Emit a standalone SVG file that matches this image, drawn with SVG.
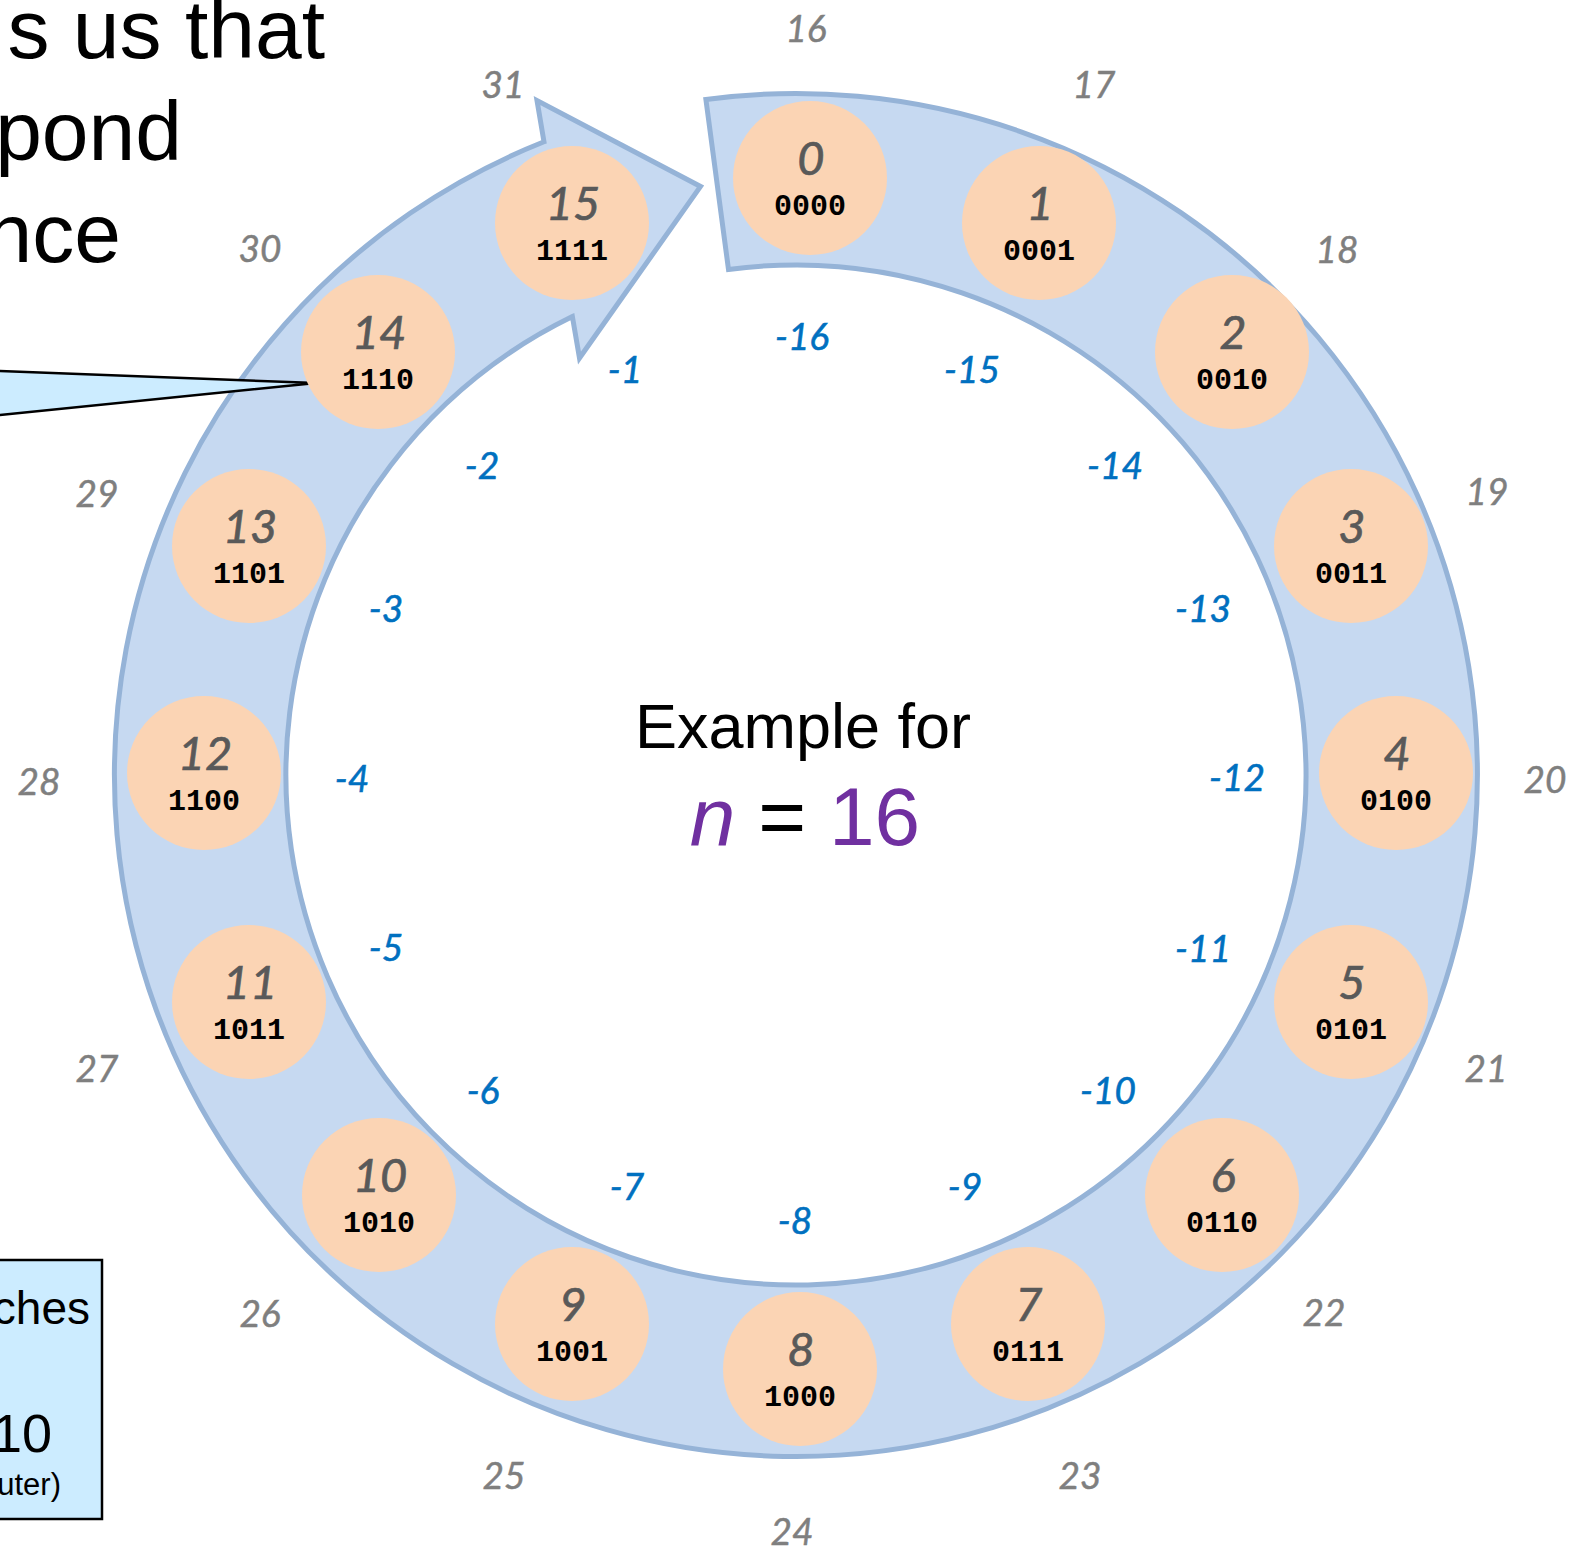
<svg xmlns="http://www.w3.org/2000/svg" width="1575" height="1549" viewBox="0 0 1575 1549">
<style>
.ring{fill:#C6D9F1;stroke:#95B3D7;stroke-width:5;stroke-linejoin:miter}
.node{fill:#FBD4B4}
.num{font-family:Lato,"Open Sans",sans-serif;font-style:italic;font-size:47px;fill:#595959;stroke:#595959;stroke-width:0.7;text-anchor:middle}
.bin{font-family:"Liberation Mono","DejaVu Sans Mono",monospace;font-weight:bold;font-size:30px;fill:#000;text-anchor:middle}
.outer{font-family:Lato,"Open Sans",sans-serif;font-style:italic;font-size:37px;fill:#7F7F7F;stroke:#7F7F7F;stroke-width:0.5;text-anchor:middle}
.neg{font-family:Lato,"Open Sans",sans-serif;font-style:italic;font-size:37px;fill:#0070C0;stroke:#0070C0;stroke-width:0.6;text-anchor:middle}
.big{font-family:"Liberation Sans",Arial,sans-serif;fill:#000}
.callout{fill:#CCECFF;stroke:#000;stroke-width:2.5}
</style>
<rect width="1575" height="1549" fill="#fff"/>

<g id="heading-text">
<text class="big" x="325" y="58" font-size="84" text-anchor="end">s us that</text>
<text class="big" x="182" y="160" font-size="84" text-anchor="end">pond</text>
<text class="big" x="121" y="262" font-size="84" text-anchor="end">nce</text>
</g>

<g id="ring">
<path class="ring" d="M 705.9 99.5 A 681.5 681.5 0 1 1 544.0 141.8 L 537 100.5 L 700.5 186.5 L 579.5 358 L 572.4 316.6 A 510 510 0 1 0 728.5 269.5 Z"/>
</g>

<g id="callout">
<path class="callout" d="M -10 370.6 L 316 383 L -10 416 Z"/>
</g>

<g id="box">
<rect class="callout" x="-10" y="1260" width="112" height="259"/>
<text class="big" x="90" y="1324" font-size="46" text-anchor="end">ches</text>
<text class="big" x="52" y="1452" font-size="54" text-anchor="end">10</text>
<text class="big" x="61" y="1495" font-size="31" text-anchor="end">uter)</text>
</g>

<g id="node0"><circle class="node" cx="810" cy="178" r="77"/><text class="num" x="811" y="175">0</text><text class="bin" x="810" y="215">0000</text></g>
<g id="node1"><circle class="node" cx="1039" cy="223" r="77"/><text class="num" x="1040" y="220">1</text><text class="bin" x="1039" y="260">0001</text></g>
<g id="node2"><circle class="node" cx="1232" cy="352" r="77"/><text class="num" x="1233" y="349">2</text><text class="bin" x="1232" y="389">0010</text></g>
<g id="node3"><circle class="node" cx="1351" cy="546" r="77"/><text class="num" x="1352" y="543">3</text><text class="bin" x="1351" y="583">0011</text></g>
<g id="node4"><circle class="node" cx="1396" cy="773" r="77"/><text class="num" x="1397" y="770">4</text><text class="bin" x="1396" y="810">0100</text></g>
<g id="node5"><circle class="node" cx="1351" cy="1002" r="77"/><text class="num" x="1352" y="999">5</text><text class="bin" x="1351" y="1039">0101</text></g>
<g id="node6"><circle class="node" cx="1222" cy="1195" r="77"/><text class="num" x="1223" y="1192">6</text><text class="bin" x="1222" y="1232">0110</text></g>
<g id="node7"><circle class="node" cx="1028" cy="1324" r="77"/><text class="num" x="1029" y="1321">7</text><text class="bin" x="1028" y="1361">0111</text></g>
<g id="node8"><circle class="node" cx="800" cy="1369" r="77"/><text class="num" x="801" y="1366">8</text><text class="bin" x="800" y="1406">1000</text></g>
<g id="node9"><circle class="node" cx="572" cy="1324" r="77"/><text class="num" x="573" y="1321">9</text><text class="bin" x="572" y="1361">1001</text></g>
<g id="node10"><circle class="node" cx="379" cy="1195" r="77"/><text class="num" x="380" y="1192">10</text><text class="bin" x="379" y="1232">1010</text></g>
<g id="node11"><circle class="node" cx="249" cy="1002" r="77"/><text class="num" x="250" y="999">11</text><text class="bin" x="249" y="1039">1011</text></g>
<g id="node12"><circle class="node" cx="204" cy="773" r="77"/><text class="num" x="205" y="770">12</text><text class="bin" x="204" y="810">1100</text></g>
<g id="node13"><circle class="node" cx="249" cy="546" r="77"/><text class="num" x="250" y="543">13</text><text class="bin" x="249" y="583">1101</text></g>
<g id="node14"><circle class="node" cx="378" cy="352" r="77"/><text class="num" x="379" y="349">14</text><text class="bin" x="378" y="389">1110</text></g>
<g id="node15"><circle class="node" cx="572" cy="223" r="77"/><text class="num" x="573" y="220">15</text><text class="bin" x="572" y="260">1111</text></g>

<g id="outer-labels">
<text class="outer" x="806" y="42">16</text>
<text class="outer" x="1094" y="98">17</text>
<text class="outer" x="1337" y="263">18</text>
<text class="outer" x="1487" y="505">19</text>
<text class="outer" x="1545" y="793">20</text>
<text class="outer" x="1486" y="1082">21</text>
<text class="outer" x="1324" y="1326">22</text>
<text class="outer" x="1080" y="1489">23</text>
<text class="outer" x="792" y="1545">24</text>
<text class="outer" x="504" y="1489">25</text>
<text class="outer" x="260" y="1327">26</text>
<text class="outer" x="97" y="1082">27</text>
<text class="outer" x="39" y="795">28</text>
<text class="outer" x="97" y="507">29</text>
<text class="outer" x="260" y="262">30</text>
<text class="outer" x="503" y="98">31</text>
</g>

<g id="inner-labels">
<text class="neg" x="625" y="383">-1</text>
<text class="neg" x="482" y="479">-2</text>
<text class="neg" x="386" y="622">-3</text>
<text class="neg" x="352" y="792">-4</text>
<text class="neg" x="386" y="961">-5</text>
<text class="neg" x="483" y="1104">-6</text>
<text class="neg" x="627" y="1200">-7</text>
<text class="neg" x="795" y="1234">-8</text>
<text class="neg" x="965" y="1200">-9</text>
<text class="neg" x="1108" y="1104">-10</text>
<text class="neg" x="1203" y="962">-11</text>
<text class="neg" x="1237" y="791">-12</text>
<text class="neg" x="1203" y="622">-13</text>
<text class="neg" x="1115" y="479">-14</text>
<text class="neg" x="972" y="383">-15</text>
<text class="neg" x="802" y="350">-16</text>
</g>

<g id="center-title">
<text class="big" x="803" y="748" font-size="63" text-anchor="middle">Example for</text>
<text class="big" x="805" y="845" font-size="82" text-anchor="middle"><tspan fill="#7030A0" font-style="italic">n</tspan> = <tspan fill="#7030A0">16</tspan></text>
</g>
</svg>
